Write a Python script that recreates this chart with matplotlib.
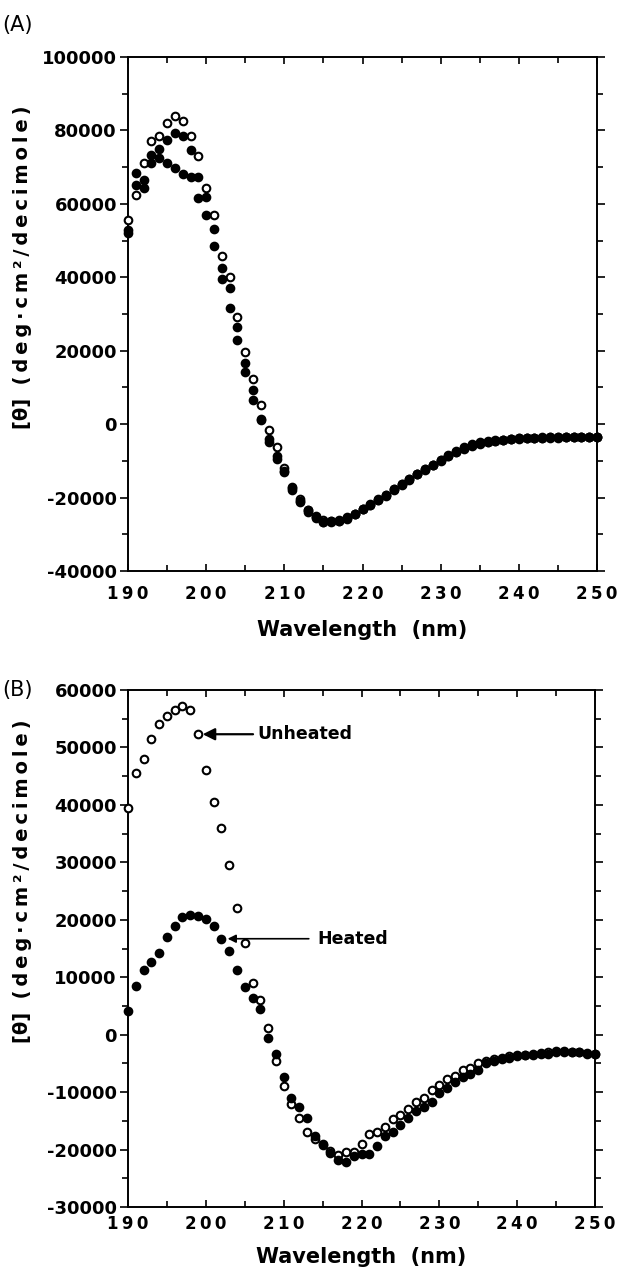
import matplotlib
matplotlib.use('Agg')
import matplotlib.pyplot as plt
from matplotlib.ticker import MultipleLocator

# wavelength grid (nm), one reading per nm
wl = list(range(190, 251))

# ---- panel A : three overlapping spectra ----
a_open = [55500, 62500, 71200, 77000, 78600, 82000, 84000, 82500, 78500, 72900,
          64300, 57000, 45800, 40200, 29300, 19700, 12200, 5200, -1500, -6200,
          -12000, -17000, -20500, -23300, -25000, -26200, -26400, -26200, -25400, -24400,
          -23000, -21700, -20400, -19200, -17600, -16200, -14900, -13500, -12200, -11000,
          -9800, -8700, -7600, -6600, -5800, -5200, -4800, -4500, -4200, -4000,
          -3900, -3800, -3700, -3700, -3600, -3600, -3500, -3500, -3500, -3400, -3400]
a_filled = [53000, 68400, 66600, 73400, 75000, 77500, 79400, 78400, 74800, 67400,
            62000, 53100, 42500, 37000, 26500, 16600, 9300, 1500, -4800, -9400,
            -12800, -18000, -21300, -23800, -25500, -26600, -26700, -26500, -25800, -24600,
            -23200, -21900, -20700, -19500, -17900, -16500, -15100, -13700, -12400, -11200,
            -10000, -8800, -7700, -6700, -5900, -5300, -4900, -4600, -4300, -4100,
            -4000, -3900, -3800, -3800, -3700, -3700, -3600, -3600, -3600, -3500, -3500]
a_third = [52000, 65200, 64400, 71000, 72500, 71200, 69800, 68000, 67400, 61600,
           57000, 48400, 39500, 31500, 22900, 14300, 6700, 1000, -4000, -8800,
           -13000, -17500, -21000, -23500, -25300, -26600, -26500, -26300, -25600, -24400,
           -23000, -22100, -20600, -19300, -17700, -16300, -14900, -13500, -12200, -11000,
           -9700, -8500, -7300, -6300, -5500, -5000, -4700, -4400, -4200, -4000,
           -3900, -3700, -3700, -3600, -3600, -3500, -3500, -3400, -3500, -3400, -3400]

# ---- panel B : unheated vs heated ----
b_unheated = [39500, 45500, 48000, 51500, 54000, 55500, 56500, 57300, 56600, 52300,
              46000, 40500, 36000, 29500, 22100, 15900, 9000, 6100, 1200, -4500,
              -9000, -12000, -14500, -17000, -18200, -19200, -20200, -21000, -20500, -20400,
              -19000, -17300, -17000, -16000, -14700, -14000, -13000, -11800, -11000, -9600,
              -8700, -7800, -7200, -6200, -5800, -5000, -4600, -4300, -4000, -3800,
              -3600, -3500, -3400, -3200, -3100, -2900, -2900, -3000, -3000, -3200, -3300]
b_heated = [4100, 8400, 11200, 12600, 14300, 17000, 18900, 20400, 20900, 20600,
            20200, 18900, 16600, 14500, 11200, 8300, 6300, 4400, -600, -3300,
            -7400, -11000, -12600, -14500, -17700, -19000, -20600, -21900, -22100, -21200,
            -20800, -20700, -19400, -17700, -17000, -15700, -14500, -13300, -12600, -11800,
            -10200, -9300, -8200, -7300, -6800, -6200, -5000, -4500, -4200, -4000,
            -3700, -3600, -3500, -3400, -3300, -3100, -3000, -3100, -3000, -3300, -3300]

xticks = [190, 200, 210, 220, 230, 240, 250]

plt.rcParams['font.family'] = ['DejaVu Sans']
plt.rcParams['axes.unicode_minus'] = False

TS = '\u2009'   # thin space, used as letter spacing
ylab = '[θ]  ' + TS.join('(deg·cm²/decimole)')

fig = plt.figure(figsize=(6.17, 12.7), dpi=100)
axA = fig.add_axes([128 / 617, 1 - 571 / 1270, 469 / 617, 514 / 1270])
axB = fig.add_axes([128 / 617, 1 - 1207 / 1270, 467 / 617, 517 / 1270])


def open_pts(ax, y):
    ax.scatter(wl, y, s=30, facecolors='white', edgecolors='black',
               linewidths=1.5, zorder=3, clip_on=False)


def filled_pts(ax, y):
    ax.scatter(wl, y, s=30, facecolors='black', edgecolors='black',
               linewidths=1.5, zorder=3, clip_on=False)


def style(ax, ymin, ymax, major, minor, label_y, xpad, xlpad):
    ax.set_xlim(190, 250)
    ax.set_ylim(ymin, ymax)
    ax.set_xticks(xticks)
    ax.set_xticklabels([TS.join(str(v)) for v in xticks],
                       fontsize=12, fontweight='bold')
    ax.xaxis.set_minor_locator(MultipleLocator(5))
    ax.yaxis.set_major_locator(MultipleLocator(major))
    ax.yaxis.set_minor_locator(MultipleLocator(minor))
    for lab in ax.get_yticklabels():
        lab.set_fontsize(13)
        lab.set_fontweight('bold')
    for s in ax.spines.values():
        s.set_linewidth(1.4)
    ax.tick_params(axis='y', which='both', left=True, right=True, direction='out', width=1.2)
    ax.tick_params(axis='y', which='major', length=6, pad=2)
    ax.tick_params(axis='y', which='minor', length=4)
    ax.tick_params(axis='x', which='both', top=True, bottom=True, direction='in', width=1.2)
    ax.tick_params(axis='x', which='major', length=5, pad=xpad)
    ax.tick_params(axis='x', which='minor', length=4)
    ax.set_xlabel('Wavelength  (nm)', fontsize=15, fontweight='bold', labelpad=xlpad)
    ax.set_ylabel(ylab, fontsize=14, fontweight='bold')
    ax.yaxis.set_label_coords(-0.205, label_y)


# panel A
open_pts(axA, a_open)
filled_pts(axA, a_third)
filled_pts(axA, a_filled)
style(axA, -40000, 100000, 20000, 10000, 0.59, 10, 12)

# panel B
open_pts(axB, b_unheated)
filled_pts(axB, b_heated)
style(axB, -30000, 60000, 10000, 5000, 0.63, 6, 10)

axB.annotate('Unheated', xy=(199.6, 52300), xytext=(206.6, 52300),
             fontsize=12.5, fontweight='bold', va='center', ha='left',
             arrowprops=dict(arrowstyle='-|>', color='black', lw=1.6,
                             mutation_scale=18, shrinkA=1, shrinkB=0))
axB.annotate('Heated', xy=(202.8, 16700), xytext=(214.3, 16700),
             fontsize=12.5, fontweight='bold', va='center', ha='left',
             arrowprops=dict(arrowstyle='-|>', color='black', lw=1.2,
                             mutation_scale=12, shrinkA=4, shrinkB=0))

fig.text(2 / 617, 1 - 25 / 1270, '(A)', fontsize=15, va='center', ha='left')
fig.text(2 / 617, 1 - 690 / 1270, '(B)', fontsize=15, va='center', ha='left')

plt.savefig('out.png', dpi=100)
